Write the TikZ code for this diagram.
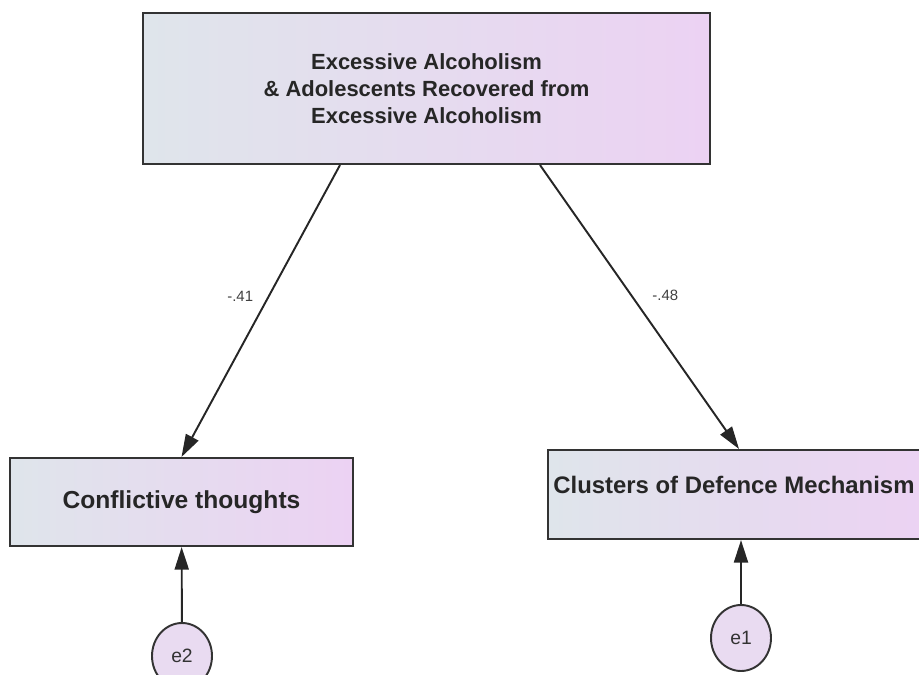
\documentclass[tikz,border=0pt]{standalone}
\usepackage{fontspec}
\setmainfont{Liberation Sans}
\usetikzlibrary{arrows.meta,shapes.geometric}
\definecolor{boxleft}{RGB}{223,229,235}
\definecolor{boxright}{RGB}{236,210,243}
\definecolor{errfill}{RGB}{233,219,241}
\tikzset{
	var/.style={draw=black!80,line width=1.2pt,left color=boxleft,right color=boxright,inner sep=0pt,align=center,font=\bfseries\fontsize{14}{17}\selectfont,text=black!85},
	err/.style={ellipse,draw=black!80,line width=1.1pt,fill=errfill,minimum width=1.2cm,minimum height=1.32cm,inner sep=0pt,font=\fontsize{11}{13}\selectfont,text=black!80},
	path/.style={draw=black!85,line width=1.1pt,-{Triangle[length=0.45cm,width=0.28cm]}},
	coef/.style={font=\fontsize{8.5}{10}\selectfont,text=black!75}
}
\begin{document}
\begin{tikzpicture}[x=0.02cm,y=-0.02cm]
	\useasboundingbox (0,0) rectangle (919,675);
	\node [var,minimum width=11.34cm,minimum height=3.02cm,font=\bfseries\fontsize{12.5}{15.5}\selectfont] (alc) at (426.5,88.5) {Excessive Alcoholism\\\& Adolescents Recovered from\\Excessive Alcoholism};
	\node [var,minimum width=6.86cm,minimum height=1.76cm] (conf) at (181.5,502) {Conflictive thoughts};
	\node [var,minimum width=7.64cm,minimum height=1.78cm] (cdm) at (739,494.5) {};
	\node [anchor=west,inner sep=0pt,font=\bfseries\fontsize{13.6}{17}\selectfont,text=black!85] (cdmtext) at (553,485) {Clusters of Defence Mechanism};
	\node [err] (e2) at (182,656) {e2};
	\node [err] (e1) at (741,638) {e1};

	\draw [path] (alc.south -| 340,0) -- node [coef,pos=0.45,left=5pt] {-.41} (conf.north);
	\draw [path] (alc.south -| 540,0) -- node [coef,pos=0.46,right=8pt] {-.48} (cdm.north);
	\draw [path] (e2) -- (conf);
	\draw [path] (e1) -- (cdm.south -| e1);
\end{tikzpicture}
\end{document}
